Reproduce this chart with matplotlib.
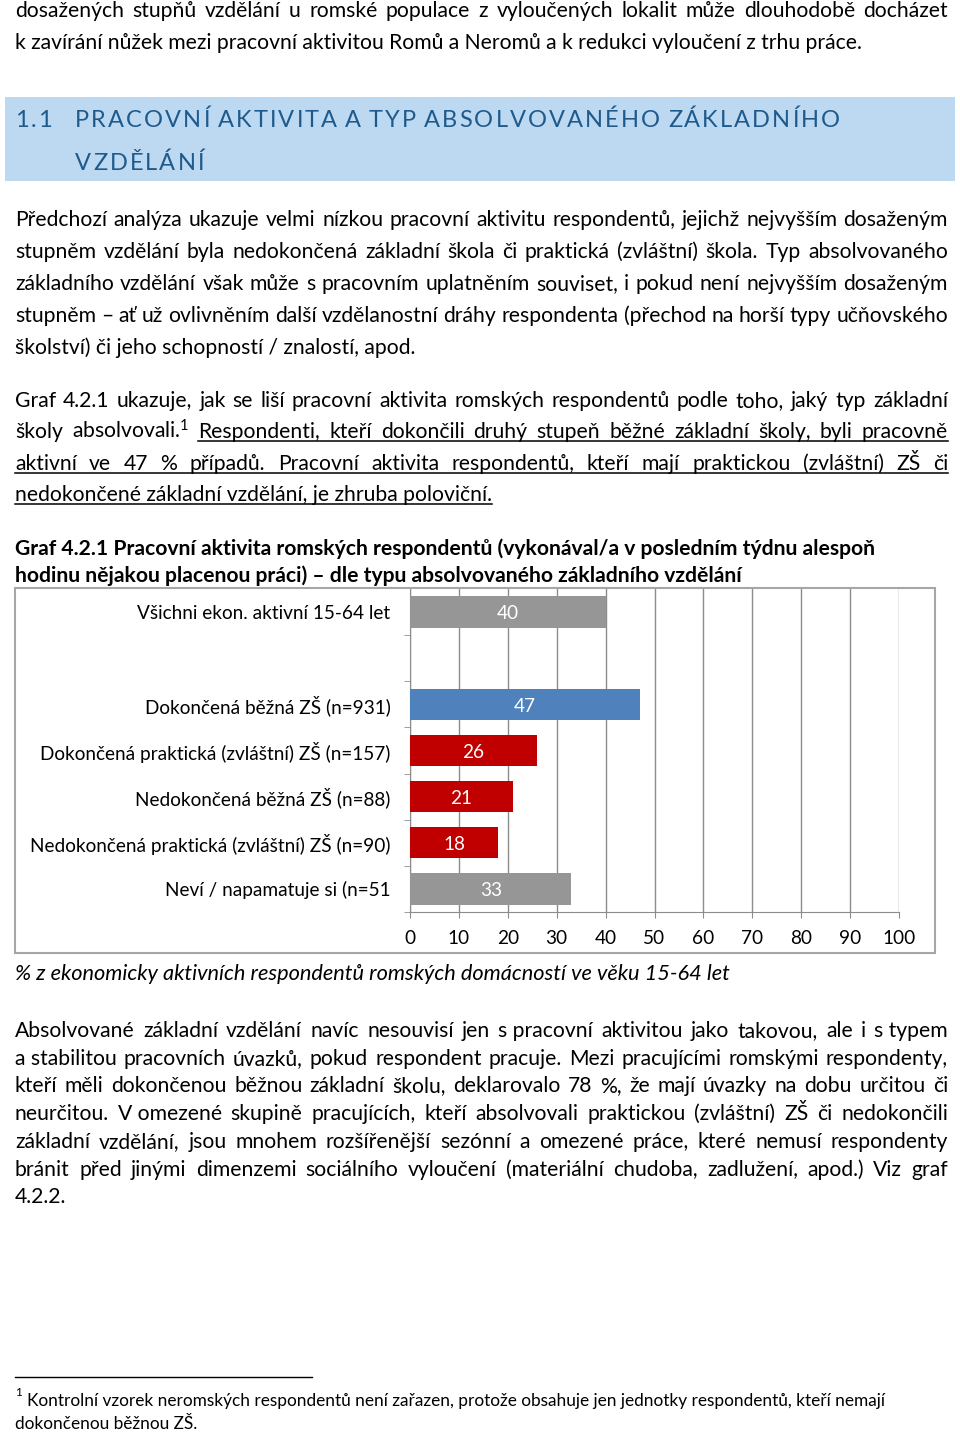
import numpy as np
import matplotlib.pyplot as plt
from matplotlib.patches import Rectangle

plt.rcParams['mathtext.fontset'] = 'custom'
plt.rcParams['mathtext.rm'] = 'Lato'
plt.rcParams['mathtext.default'] = 'regular'

W, H = 960, 1433
FONT = 'Lato'
BODY = 15.2
CHART = 13.7

# chart data
categories = ["Všichni ekon. aktivní 15-64 let", "",
              "Dokončená běžná ZŠ (n=931)",
              "Dokončená praktická (zvláštní) ZŠ (n=157)",
              "Nedokončená běžná ZŠ (n=88)",
              "Nedokončená praktická (zvláštní) ZŠ (n=90)",
              "Neví / napamatuje si (n=51"]
values = [40, np.nan, 47, 26, 21, 18, 33]
bar_colors = ['#969696', 'none', '#4F81BD', '#C00000', '#C00000', '#C00000', '#969696']
xticks = list(range(0, 101, 10))

fig = plt.figure(figsize=(W / 100, H / 100), dpi=100)
page = fig.add_axes([0, 0, 1, 1])
page.set_xlim(0, W)
page.set_ylim(H, 0)
page.axis('off')
renderer = fig.canvas.get_renderer()


def put(x, y, s, size=BODY, **kw):
    kw.setdefault('family', FONT)
    return page.text(x, y, s, fontsize=size, va='baseline', ha='left', **kw)


def width(t):
    return t.get_window_extent(renderer).width


def justify(y, line, x0=15, x1=948, under_from=None, **kw):
    words = line.split(' ')
    arts = [put(0, y, w, **kw) for w in words]
    ws = [width(a) for a in arts]
    gap = (x1 - x0 - sum(ws)) / (len(words) - 1)
    x = x0
    ustart = None
    for i, (a, w) in enumerate(zip(arts, ws)):
        a.set_x(x)
        if under_from is not None and i == under_from:
            ustart = x
        x += w + gap
    if ustart is not None:
        page.plot([ustart, x1], [y + 3, y + 3], color='black', lw=1.1)


def left(y, line, x0=15, underline=False, **kw):
    t = put(x0, y, line, **kw)
    if underline:
        page.plot([x0, x0 + width(t)], [y + 3, y + 3], color='black', lw=1.1)
    return t


def tracked_words(x0, y, s, track, space, size, color):
    x = x0
    for word in s.split(' '):
        for ch in word:
            t = put(x, y, ch, size, color=color)
            x += width(t) + track
        x += space - track
    return x


# top lines
justify(17, "dosažených stupňů vzdělání u romské populace z vyloučených lokalit může dlouhodobě docházet")
left(49, "k zavírání nůžek mezi pracovní aktivitou Romů a Neromů a k redukci vyloučení z trhu práce.")

# heading
page.add_patch(Rectangle((5, 97), 950, 84, color='#BDD9F2', lw=0))
HEAD = '#1F5A8C'
HSIZE = 17
tracked_words(15, 127, "1.1", 2.0, 0, HSIZE, HEAD)
head1 = "PRACOVNÍ AKTIVITA A TYP ABSOLVOVANÉHO ZÁKLADNÍHO"
letters = head1.replace(' ', '')
probe = [put(0, -100, ch, HSIZE) for ch in letters]
natural = sum(width(p) for p in probe)
for p in probe:
    p.remove()
nwords = len(head1.split(' '))
space = 8
track = (840 - 75 - natural - space * (nwords - 1)) / (len(letters) - nwords)
tracked_words(75, 127, head1, track, space, HSIZE, HEAD)
tracked_words(75, 170, "VZDĚLÁNÍ", track, space, HSIZE, HEAD)

# paragraph 1
p1 = ["Předchozí analýza ukazuje velmi nízkou pracovní aktivitu respondentů, jejichž nejvyšším dosaženým",
      "stupněm vzdělání byla nedokončená základní škola či praktická (zvláštní) škola. Typ absolvovaného",
      "základního vzdělání však může s pracovním uplatněním souviset, i pokud není nejvyšším dosaženým",
      "stupněm – ať už ovlivněním další vzdělanostní dráhy respondenta (přechod na horší typy učňovského"]
for i, line in enumerate(p1):
    justify(226 + 32 * i, line)
left(354, "školství) či jeho schopností / znalostí, apod.")

# paragraph 2
justify(407, "Graf 4.2.1 ukazuje, jak se liší pracovní aktivita romských respondentů podle toho, jaký typ základní")
justify(438, "školy absolvovali.$^{1}$ Respondenti, kteří dokončili druhý stupeň běžné základní školy, byli pracovně",
        under_from=2)
justify(470, "aktivní ve 47 % případů. Pracovní aktivita respondentů, kteří mají praktickou (zvláštní) ZŠ či",
        under_from=0)
left(501, "nedokončené základní vzdělání, je zhruba poloviční.", underline=True)

# chart caption
left(555, "Graf 4.2.1 Pracovní aktivita romských respondentů (vykonával/a v posledním týdnu alespoň",
     weight='bold')
left(582, "hodinu nějakou placenou práci) – dle typu absolvovaného základního vzdělání", weight='bold')

# chart frame
page.add_patch(Rectangle((15, 588), 920, 365, fill=False, edgecolor='#A6A6A6', lw=1.5))

# chart
ax = fig.add_axes([410 / W, 1 - 912 / H, (899 - 410) / W, (912 - 589) / H])
ax.set_facecolor('none')
ypos = np.arange(len(categories))
ax.barh(ypos, values, height=0.68, color=bar_colors, zorder=3)
for y, v in zip(ypos, values):
    if not np.isnan(v):
        ax.text(v / 2, y + 0.04, f"{v:.0f}", ha='center', va='center', color='white',
                fontsize=CHART, family=FONT, zorder=4)
ax.set_xlim(0, 100)
ax.set_ylim(len(categories) - 0.5, -0.5)
ax.set_xticks(xticks)
ax.set_yticks(ypos)
ax.set_yticklabels(categories, fontsize=CHART, family=FONT)
ax.set_yticks(np.arange(0.5, len(categories), 1), minor=True)
ax.tick_params(axis='y', which='major', length=0, pad=14)
ax.tick_params(axis='y', which='minor', length=4, color='#8C8C8C', direction='out')
ax.tick_params(axis='x', length=4, color='#8C8C8C', pad=9, labelsize=CHART)
for lab in ax.get_xticklabels():
    lab.set_family(FONT)
ax.grid(axis='x', color='#8C8C8C', lw=1, zorder=0)
for s in ['top', 'right']:
    ax.spines[s].set_visible(False)
for s in ['left', 'bottom']:
    ax.spines[s].set_color('#8C8C8C')

left(980, "% z ekonomicky aktivních respondentů romských domácností ve věku 15-64 let",
     size=15.7, style='italic')

# paragraph 3
p3 = ["Absolvované základní vzdělání navíc nesouvisí jen s\u00a0pracovní aktivitou jako takovou, ale i s\u00a0typem",
      "a\u00a0stabilitou pracovních úvazků, pokud respondent pracuje. Mezi pracujícími romskými respondenty,",
      "kteří měli dokončenou běžnou základní školu, deklarovalo 78 %, že mají úvazky na dobu určitou či",
      "neurčitou. V\u00a0omezené skupině pracujících, kteří absolvovali praktickou (zvláštní) ZŠ či nedokončili",
      "základní vzdělání, jsou mnohem rozšířenější sezónní a omezené práce, které nemusí respondenty",
      "bránit před jinými dimenzemi sociálního vyloučení (materiální chudoba, zadlužení, apod.) Viz graf"]
for i, line in enumerate(p3):
    justify(1037 + 27.7 * i, line)
left(1203, "4.2.2.")

# footnote
page.plot([15, 312], [1377, 1377], color='black', lw=1)
put(15, 1396, "1", 8.5)
put(27, 1406, "Kontrolní vzorek neromských respondentů není zařazen, protože obsahuje jen jednotky respondentů, kteří nemají",
    12.4)
put(15, 1429, "dokončenou běžnou ZŠ.", 12.4)

fig.savefig('out.png', dpi=100)
